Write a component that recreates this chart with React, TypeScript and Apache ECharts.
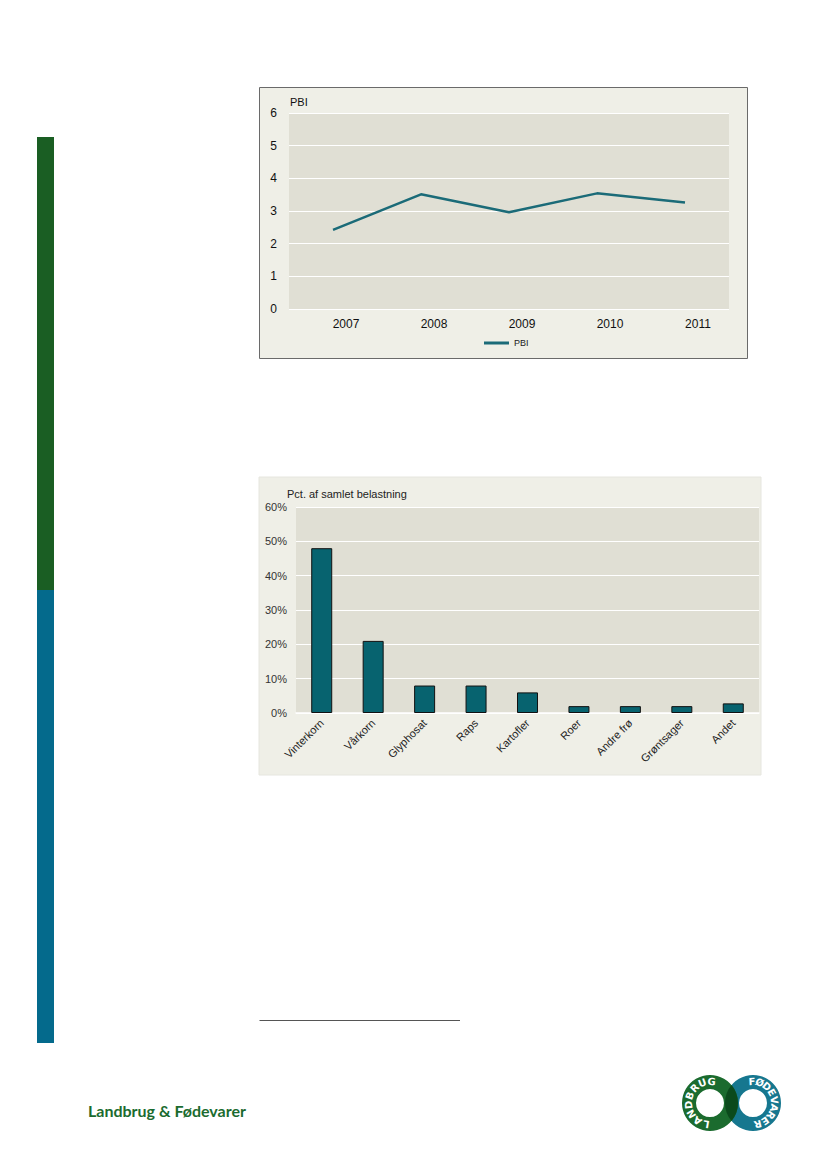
import React, { useEffect, useRef } from "react";
import * as echarts from "echarts";

const years = ["2007", "2008", "2009", "2010", "2011"];
const pbiValues = [2.42, 3.51, 2.96, 3.54, 3.26];
const pbiTicks = [0, 1, 2, 3, 4, 5, 6];

const crops = ["Vinterkorn", "Vårkorn", "Glyphosat", "Raps", "Kartofler", "Roer", "Andre frø", "Grøntsager", "Andet"];
const shareValues = [48, 21, 8, 8, 6, 2, 2, 2, 2.8];

const greenLetters = ["L", "A", "N", "D", "B", "R", "U", "G"];
const blueLetters = ["F", "Ø", "D", "E", "V", "A", "R", "E", "R"];

const FONT = '"Liberation Sans", Arial, sans-serif';

export default function App() {
  const ref = useRef<HTMLDivElement>(null);

  useEffect(() => {
    if (!ref.current) return;
    const chart = echarts.init(ref.current, undefined, { renderer: "svg" });

    const gC = { x: 710, y: 1103 };
    const bC = { x: 753, y: 1103 };
    const R = 28;
    const r0 = 14;
    const d = bC.x - gC.x;
    const a = d / 2;
    const h = Math.sqrt(R * R - a * a);
    const ix = gC.x + a;
    const lensPath = `M${ix} ${gC.y - h} A${R} ${R} 0 0 1 ${ix} ${gC.y + h} A${R} ${R} 0 0 1 ${ix} ${gC.y - h} Z`;
    echarts.graphic.registerShape("lens", (echarts.graphic as any).extendPath(lensPath, {}));

    const letterStyle = { fill: "#ffffff", fontSize: 10, fontWeight: "bold", fontFamily: '"DejaVu Sans", sans-serif', align: "center", verticalAlign: "middle" };
    const letterEls: any[] = [];
    const mid = 21.5;
    greenLetters.forEach((ch, i) => {
      const th = ((260 - i * 24.9) * Math.PI) / 180;
      letterEls.push({
        type: "text",
        x: gC.x + mid * Math.cos(th),
        y: gC.y - mid * Math.sin(th),
        rotation: th - Math.PI / 2,
        z: 20,
        style: { ...letterStyle, text: ch },
      });
    });
    blueLetters.forEach((ch, i) => {
      const th = ((93 - i * 21.25) * Math.PI) / 180;
      letterEls.push({
        type: "text",
        x: bC.x + mid * Math.cos(th),
        y: bC.y - mid * Math.sin(th),
        rotation: th - Math.PI / 2,
        z: 20,
        style: { ...letterStyle, text: ch },
      });
    });

    const option: any = {
      animation: false,
      textStyle: { fontFamily: FONT },
      graphic: [
        { type: "rect", shape: { x: 37, y: 137, width: 17, height: 453 }, style: { fill: "#1a5e23" }, z: -10 },
        { type: "rect", shape: { x: 37, y: 590, width: 17, height: 453 }, style: { fill: "#046a8c" }, z: -10 },
        { type: "rect", shape: { x: 259.5, y: 87.5, width: 488, height: 271 }, style: { fill: "#efefe7", stroke: "#6a6a6a", lineWidth: 1 }, z: -10 },
        { type: "rect", shape: { x: 259, y: 477, width: 502, height: 298 }, style: { fill: "#efefe7", stroke: "#e6e6df", lineWidth: 1 }, z: -10 },
        { type: "text", x: 290, y: 102, style: { text: "PBI", fill: "#111", fontSize: 11, fontFamily: FONT, align: "left", verticalAlign: "middle" } },
        { type: "text", x: 287, y: 494, style: { text: "Pct. af samlet belastning", fill: "#222", fontSize: 11, fontFamily: FONT, align: "left", verticalAlign: "middle" } },
        { type: "line", shape: { x1: 259.5, y1: 1020.5, x2: 460, y2: 1020.5 }, style: { stroke: "#555", lineWidth: 1 } },
        { type: "text", x: 88, y: 1110, style: { text: "Landbrug & Fødevarer", fill: "#1b6b2f", fontSize: 16, fontWeight: "bold", fontFamily: "Lato, sans-serif", align: "left", verticalAlign: "middle" } },
        { type: "ring", shape: { cx: bC.x, cy: bC.y, r: R, r0 }, style: { fill: "#16778f" }, z: 10 },
        { type: "ring", shape: { cx: gC.x, cy: gC.y, r: R, r0 }, style: { fill: "#1b6b2e" }, z: 11 },
        { type: "lens", x: 0, y: 0, style: { fill: "#0b4a1c" }, z: 12 },
        ...letterEls,
      ],
      legend: {
        data: ["PBI"],
        left: 484,
        top: 338,
        padding: 0,
        icon: "rect",
        itemWidth: 25,
        itemHeight: 3,
        textStyle: { fontSize: 9, color: "#222", lineHeight: 10, fontFamily: FONT },
      },
      grid: [
        { left: 289, top: 113, width: 440, height: 196, show: true, backgroundColor: "#e0dfd4", borderWidth: 0 },
        { left: 296, top: 507, width: 463, height: 206, show: true, backgroundColor: "#e0dfd4", borderWidth: 0 },
      ],
      xAxis: [
        {
          gridIndex: 0,
          type: "category",
          data: years,
          boundaryGap: true,
          axisLine: { show: false },
          axisTick: { show: false },
          axisLabel: { margin: 9, fontSize: 12, color: "#111", fontFamily: FONT, padding: [0, 0, 0, 26] },
        },
        {
          gridIndex: 1,
          type: "category",
          data: crops,
          boundaryGap: true,
          axisLine: { show: true, lineStyle: { color: "#ffffff", width: 1.5 } },
          axisTick: { show: false },
          axisLabel: { rotate: 45, interval: 0, margin: 8, fontSize: 11, color: "#222", fontFamily: FONT },
        },
      ],
      yAxis: [
        {
          gridIndex: 0,
          type: "value",
          min: pbiTicks[0],
          max: pbiTicks[pbiTicks.length - 1],
          interval: 1,
          axisLine: { show: false },
          axisTick: { show: false },
          splitLine: { show: true, lineStyle: { color: "#ffffff", width: 1 } },
          axisLabel: { margin: 12, fontSize: 12, color: "#111", fontFamily: FONT },
        },
        {
          gridIndex: 1,
          type: "value",
          min: 0,
          max: 60,
          interval: 10,
          axisLine: { show: false },
          axisTick: { show: false },
          splitLine: { show: true, lineStyle: { color: "#ffffff", width: 1 } },
          axisLabel: { margin: 9, fontSize: 11, color: "#333", fontFamily: FONT, formatter: "{value}%" },
        },
      ],
      series: [
        {
          name: "PBI",
          type: "line",
          xAxisIndex: 0,
          yAxisIndex: 0,
          data: pbiValues,
          symbol: "none",
          color: "#1b6b78",
          lineStyle: { color: "#1b6b78", width: 2.5 },
        },
        {
          name: "Andel",
          type: "bar",
          xAxisIndex: 1,
          yAxisIndex: 1,
          data: shareValues,
          barWidth: 21,
          itemStyle: { color: "#07636f", borderColor: "#111", borderWidth: 1 },
        },
      ],
    };

    chart.setOption(option);
    return () => chart.dispose();
  }, []);

  return (
    <div
      ref={ref}
      style={{ position: "absolute", left: 0, top: 0, width: 827, height: 1169, background: "#ffffff" }}
    />
  );
}
